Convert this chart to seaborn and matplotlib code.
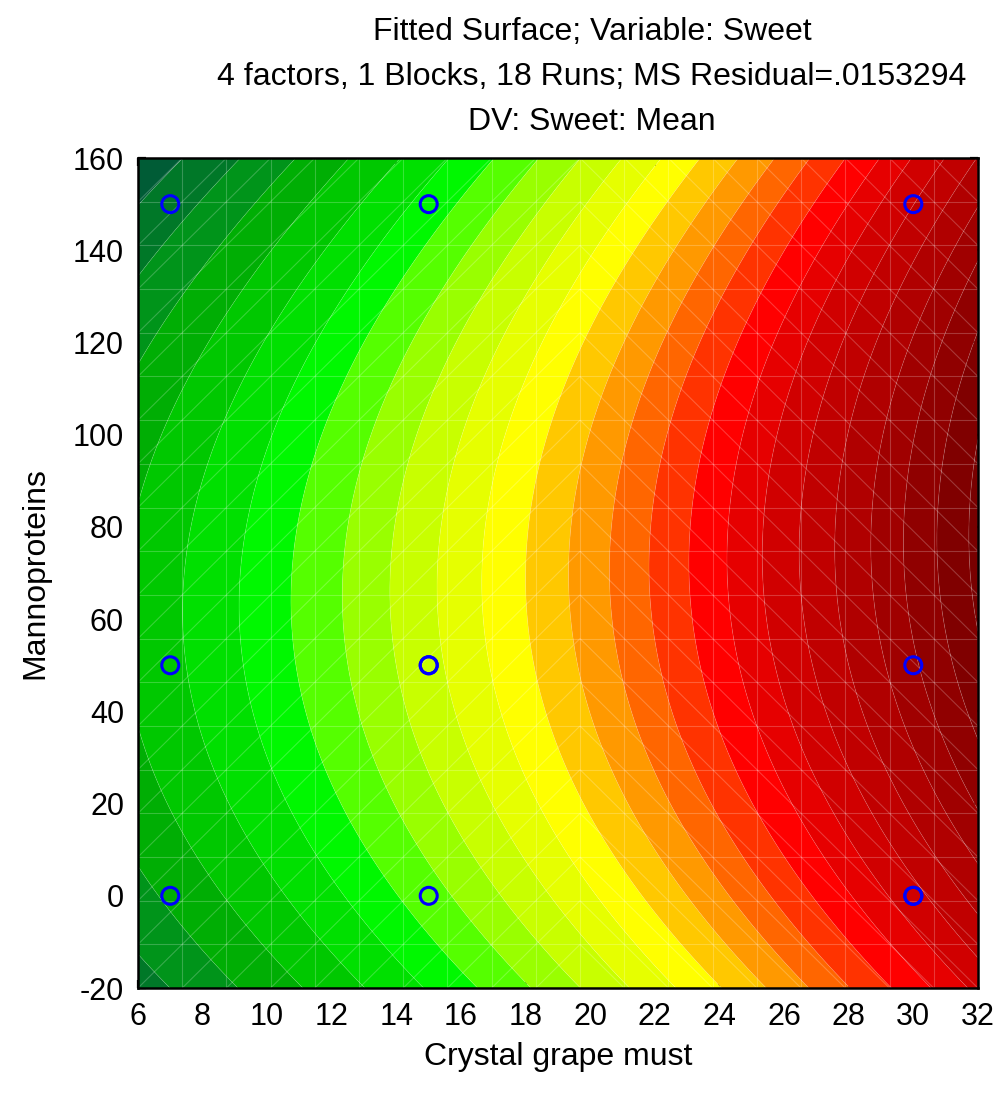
import numpy as np
import pandas as pd
import seaborn as sns
import matplotlib
matplotlib.use('Agg')
from matplotlib import pyplot as plt
from matplotlib.collections import LineCollection

# design runs shown in the slice (center points repeated)
crystal = [7, 7, 7, 15, 15, 15, 15, 30, 30, 30, 30]
manno = [0, 50, 150, 0, 50, 50, 150, 0, 0, 50, 150]
sweet = [1.607, 2.068, 1.097, 2.838, 3.366, 3.366, 2.531, 5.380, 5.380, 6.034, 5.450]

# contour levels of the fitted surface
levels = [0.278, 0.608, 0.930, 1.245, 1.553, 1.853, 2.145, 2.426, 2.688,
          2.951, 3.198, 3.446, 3.684, 3.920, 4.154, 4.379, 4.599, 4.823,
          5.039, 5.241, 5.454, 5.661, 5.873, 6.066, 6.266, 6.458, 6.645]
band_colors = ['#004e3c', '#005c36', '#007828', '#00941a', '#00ae04', '#00c800',
               '#00e000', '#00f800', '#55ff00', '#99ff00', '#c8ff00', '#e6ff00',
               '#ffff00', '#ffc800', '#ff9900', '#ff6600', '#ff3300', '#ff0000',
               '#e60000', '#d00000', '#c00000', '#b00000', '#a00000', '#900000',
               '#800000', '#780000']

xticks = list(range(6, 33, 2))
yticks = list(range(-20, 161, 20))

df = pd.DataFrame({'Crystal grape must': crystal, 'Mannoproteins': manno, 'Sweet': sweet})

# quadratic response surface fit
def terms(x, y):
    return np.column_stack([np.ones_like(x), x, y, x**2, y**2, x*y])

xd = df['Crystal grape must'].to_numpy(float)
yd = df['Mannoproteins'].to_numpy(float)
coef, *_ = np.linalg.lstsq(terms(xd, yd), df['Sweet'].to_numpy(float), rcond=None)

gx = np.linspace(6, 32, 300)
gy = np.linspace(-20, 160, 300)
GX, GY = np.meshgrid(gx, gy)
GZ = (terms(GX.ravel(), GY.ravel()) @ coef).reshape(GX.shape)

sns.set_style('ticks')
plt.rcParams['font.family'] = ['Liberation Sans', 'DejaVu Sans']
plt.rcParams['axes.unicode_minus'] = False
plt.rcParams['text.color'] = 'black'
plt.rcParams['axes.labelcolor'] = 'black'

fig = plt.figure(figsize=(9.99, 11.02), dpi=100)
ax = fig.add_axes([0.1381, 0.1034, 0.8408, 0.7532])

ax.contourf(GX, GY, GZ, levels=levels, colors=band_colors, antialiased=True)
ax.contour(GX, GY, GZ, levels=levels, colors='white', linewidths=0.6, alpha=0.15)

# faint mesh of the surface
mx = np.linspace(6, 32, 20)
my = np.linspace(-20, 160, 20)
segs = []
for v in mx:
    segs.append([(v, -20), (v, 160)])
for v in my:
    segs.append([(6, v), (32, v)])
for i in range(19):
    for j in range(19):
        if mx[i] < 19:
            segs.append([(mx[i], my[j]), (mx[i + 1], my[j + 1])])
        else:
            segs.append([(mx[i], my[j + 1]), (mx[i + 1], my[j])])
ax.add_collection(LineCollection(segs, colors='white', linewidths=0.8, alpha=0.22))

sns.scatterplot(data=df, x='Crystal grape must', y='Mannoproteins', ax=ax,
                marker='o', s=150, facecolor='none', edgecolor='#0000ff',
                linewidth=2.2, zorder=5, legend=False)

ax.set_xlim(6, 32)
ax.set_ylim(-20, 160)
ax.set_xticks(xticks)
ax.set_yticks(yticks)
ax.tick_params(direction='in', length=6, width=1.6, labelsize=22, pad=10,
               top=True, right=True, colors='black', labelcolor='black')
for sp in ax.spines.values():
    sp.set_linewidth(1.8)
    sp.set_color('black')
    sp.set_visible(True)

ax.set_xlabel('Crystal grape must', fontsize=23, color='black')
ax.set_ylabel('Mannoproteins', fontsize=23, color='black')
ax.xaxis.set_label_coords(0.5, -0.083)
ax.xaxis.label.set_va('center')
ax.yaxis.set_label_coords(-0.1226, 0.5)
ax.yaxis.label.set_va('center')

title_lines = ['Fitted Surface; Variable: Sweet',
               '4 factors, 1 Blocks, 18 Runs; MS Residual=.0153294',
               'DV: Sweet: Mean']
for t, yy in zip(title_lines, [0.971, 0.930, 0.889]):
    fig.text(0.5926, yy, t, ha='center', va='center', fontsize=23, color='black')

fig.savefig('out.png', dpi=100)
